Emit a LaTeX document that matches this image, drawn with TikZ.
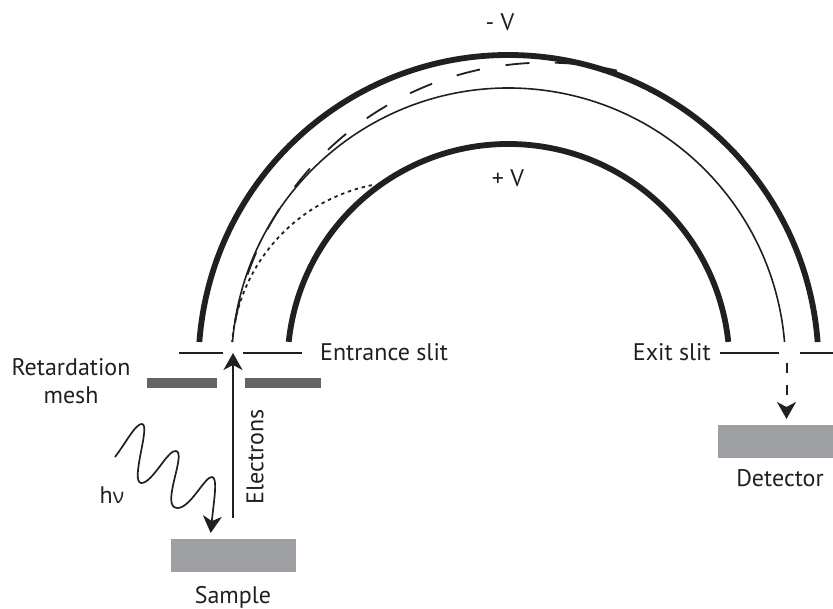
\documentclass[tikz,border=0pt]{standalone}
\usepackage{fontspec}
\setmainfont{PT Sans}
\newfontfamily\greekfont{Open Sans}
\usetikzlibrary{arrows.meta}
\definecolor{ink}{HTML}{231F20}
\definecolor{meshgrey}{HTML}{636466}
\definecolor{blockgrey}{HTML}{9D9FA2}
\tikzset{
  x=1pt,y=1pt,
  lbl/.style={inner sep=0pt,text=ink,font=\fontsize{24}{27}\selectfont},
  plate/.style={draw=ink,line width=5.8pt},
  trajectory/.style={draw=ink,line width=1.6pt},
  slitline/.style={draw=ink,line width=1.6pt},
  bigtip/.style={-{Stealth[length=17pt,width=19pt,inset=5pt]}},
  meshbar/.style={fill=meshgrey,inner sep=0pt,minimum height=10pt},
  block/.style={fill=blockgrey,inner sep=0pt,minimum height=33pt},
}
\begin{document}
\begin{tikzpicture}
\useasboundingbox (0,0) rectangle (833,609);
% centre of the analyser: (508.5,244)
\coordinate (c) at (508.5,244);
% hemispheres
\draw[plate] ([shift={(175.75:310pt)}]c) arc[start angle=175.75,end angle=4.25,radius=310pt];
\draw[plate] ([shift={(174:221pt)}]c) arc[start angle=174,end angle=6,radius=221pt];
\draw[trajectory] ([shift={(175.2:277pt)}]c) arc[start angle=175.2,end angle=4.8,radius=277pt];
% dashed and dotted trajectories
\coordinate (dc) at (546,230.4);
\draw[draw=ink,line width=1.8pt,dash pattern=on 24pt off 26pt] ([shift={(93:316pt)}]dc) arc[start angle=93,end angle=174,radius=316pt];
\draw[draw=ink,line width=1.8pt] ([shift={(77:316pt)}]dc) arc[start angle=77,end angle=88.4,radius=316pt];
\coordinate (pc) at (406.5,252.3);
\draw[draw=ink,line width=1.8pt,dash pattern=on 3.4pt off 3.8pt] ([shift={(101.4:175pt)}]pc) arc[start angle=101.4,end angle=175.2,radius=175pt];
% slits
\coordinate (s1a) at (179,256); \coordinate (s1b) at (223,256);
\coordinate (s2a) at (243,256); \coordinate (s2b) at (302,256);
\coordinate (s3a) at (720,256); \coordinate (s3b) at (779,256);
\coordinate (s4a) at (800,256); \coordinate (s4b) at (833,256);
\draw[slitline] (s1a) -- (s1b);
\draw[slitline] (s2a) -- (s2b);
\draw[slitline] (s3a) -- (s3b);
\draw[slitline] (s4a) -- (s4b);
% mesh
\node[meshbar,minimum width=70pt] (meshL) at (182,226) {};
\node[meshbar,minimum width=76pt] (meshR) at (283,226) {};
% blocks
\node[block,minimum width=125pt] (sample) at (233.5,53.5) {};
\node[block,minimum width=115pt] (detector) at (775.5,167.5) {};
% arrows
\coordinate (eStart) at (233,91);
\coordinate (eEnd) at (233,256);
\draw[draw=ink,line width=1.7pt,bigtip] (eStart) -- (eEnd);
\coordinate (dStart) at (786.5,246);
\coordinate (dEnd) at (786.5,190);
\draw[draw=ink,line width=2pt,bigtip,dash pattern=on 10pt off 12pt] (dStart) -- (dEnd);
% photon
\coordinate (phStart) at (115,152);
\coordinate (phEnd) at (210.7,76);
\draw[draw=ink,line width=1.7pt,bigtip] (phStart)
  .. controls (125,165) and (136,186) .. (142,185)
  .. controls (151,184) and (130,128) .. (141,126)
  .. controls (152,125) and (168,160) .. (176,158)
  .. controls (187,156) and (160,102) .. (177,101)
  .. controls (190,100) and (205,133) .. (212,132)
  .. controls (218,131) and (214,110) .. (phEnd);
% labels
\node[lbl] (minusV) at (500,587) {- V};
\node[lbl] (plusV) at (508,431) {+ V};
\node[lbl,anchor=west] (entrance) at (320,257) {Entrance slit};
\node[lbl,anchor=east] (exit) at (711,257) {Exit slit};
\node[lbl,align=center] (retard) at (71,228) {Retardation\\[1pt]mesh};
\node[lbl] (hnu) at (112,114) {h\greekfont\fontsize{21}{24}\selectfont ν};
\node[lbl,rotate=90] (electrons) at (255,152) {Electrons};
\node[lbl] (sampleL) at (233,12) {Sample};
\node[lbl] (detectorL) at (780,131) {Detector};
\end{tikzpicture}
\end{document}
